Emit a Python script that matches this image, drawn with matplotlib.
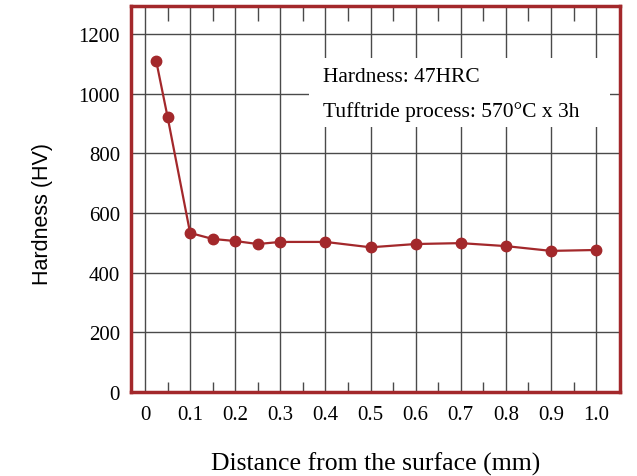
import numpy as np
import matplotlib
matplotlib.use('Agg')
from matplotlib import pyplot as plt
from matplotlib.patches import Rectangle

# data
distance = [0.025, 0.05, 0.1, 0.15, 0.2, 0.25, 0.3, 0.4, 0.5, 0.6, 0.7, 0.8, 0.9, 1.0]
hardness = [1108, 922, 533, 513, 506, 496, 503, 503, 485, 496, 499, 489, 473, 476]
xticks = [0, 0.1, 0.2, 0.3, 0.4, 0.5, 0.6, 0.7, 0.8, 0.9, 1.0]
xticklabels = ['0', '0.1', '0.2', '0.3', '0.4', '0.5', '0.6', '0.7', '0.8', '0.9', '1.0']
yticks = [0, 200, 400, 600, 800, 1000, 1200]

red = '#a3282b'
grid_col = '#4a4a4a'
serif = 'Liberation Serif'

fig = plt.figure(figsize=(6.37, 4.77), dpi=100)
ax = fig.add_axes([0.2057, 0.176, 0.7676, 0.809])

ax.set_xlim(-0.031, 1.053)
ax.set_ylim(0, 1293)

ax.set_xticks(xticks)
ax.set_xticklabels(xticklabels, fontfamily=serif, fontsize=15)
ax.set_yticks(yticks)
ax.set_yticklabels([str(v) for v in yticks], fontfamily=serif, fontsize=15)
ax.set_xticks(np.arange(0.05, 1.0, 0.1), minor=True)

ax.grid(True, which='major', color=grid_col, linewidth=1.0, zorder=1)
ax.set_axisbelow(True)
ax.tick_params(axis='x', which='major', length=0, pad=9)
ax.tick_params(axis='y', which='major', length=0, pad=8)
ax.tick_params(axis='x', which='minor', direction='in', length=7, width=1.0,
               color=grid_col, bottom=True, top=False)

# longer minor ticks along the top
top = ax.secondary_xaxis('top')
top.set_xticks(np.arange(0.05, 1.0, 0.1))
top.tick_params(direction='in', length=10.5, width=1.0, color=grid_col, labeltop=False)
top.spines['top'].set_visible(False)

for s in ax.spines.values():
    s.set_color(red)
    s.set_linewidth(2.5)
    s.set_zorder(5)

# white box behind the note
ax.add_patch(Rectangle((0.364, 0.687), 0.615, 0.179, transform=ax.transAxes,
                       facecolor='white', edgecolor='none', zorder=2))
ax.text(0.392, 0.818, 'Hardness: 47HRC', transform=ax.transAxes,
        fontfamily=serif, fontsize=15.5, va='center', ha='left', zorder=3)
ax.text(0.392, 0.727, 'Tufftride process: 570°C x 3h', transform=ax.transAxes,
        fontfamily=serif, fontsize=15.5, va='center', ha='left', zorder=3)

ax.plot(distance, hardness, color=red, linewidth=1.6, marker='o', markersize=7.5,
        markerfacecolor=red, markeredgecolor=red, zorder=4, clip_on=False)

ax.set_xlabel('Distance from the surface (mm)', fontfamily=serif, fontsize=18.5, labelpad=20)
ax.set_ylabel('Hardness (HV)', fontfamily='Liberation Sans', fontsize=15.5)
ax.yaxis.set_label_coords(-0.16, 0.465)

fig.savefig('out.png', dpi=100)
